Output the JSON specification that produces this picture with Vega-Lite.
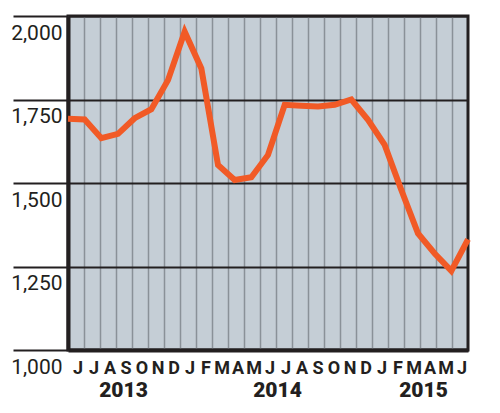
{
  "$schema": "https://vega.github.io/schema/vega-lite/v6.json",
  "width": 400,
  "height": 334,
  "autosize": {"type": "none"},
  "padding": {"left": 68, "top": 16, "right": 32, "bottom": 63},
  "background": "white",
  "config": {
    "view": {"fill": "#c5ced6", "stroke": "#231f20", "strokeWidth": 3}
  },
  "data": {
    "values": [
      {"month": "Jun 2013", "value": 1692},
      {"month": "Jul 2013", "value": 1690},
      {"month": "Aug 2013", "value": 1634},
      {"month": "Sep 2013", "value": 1647},
      {"month": "Oct 2013", "value": 1694},
      {"month": "Nov 2013", "value": 1721},
      {"month": "Dec 2013", "value": 1808},
      {"month": "Jan 2014", "value": 1953},
      {"month": "Feb 2014", "value": 1843},
      {"month": "Mar 2014", "value": 1554},
      {"month": "Apr 2014", "value": 1509},
      {"month": "May 2014", "value": 1517},
      {"month": "Jun 2014", "value": 1584},
      {"month": "Jul 2014", "value": 1734},
      {"month": "Aug 2014", "value": 1731},
      {"month": "Sep 2014", "value": 1729},
      {"month": "Oct 2014", "value": 1734},
      {"month": "Nov 2014", "value": 1750},
      {"month": "Dec 2014", "value": 1689},
      {"month": "Jan 2015", "value": 1614},
      {"month": "Feb 2015", "value": 1479},
      {"month": "Mar 2015", "value": 1349},
      {"month": "Apr 2015", "value": 1289},
      {"month": "May 2015", "value": 1237},
      {"month": "Jun 2015", "value": 1331}
    ]
  },
  "layer": [
    {
      "mark": {"type": "point", "opacity": 0},
      "encoding": {
        "x": {
          "field": "month",
          "type": "ordinal",
          "sort": null,
          "scale": {"type": "band", "paddingInner": 0, "paddingOuter": 0},
          "axis": {
            "title": null,
            "labelExpr": "substring(datum.value, 0, 1)",
            "labelAngle": 0,
            "labelOverlap": false,
            "labelFlush": false,
            "bandPosition": 0,
            "labelOffset": 2,
            "ticks": false,
            "tickSize": 0,
            "labelPadding": 9,
            "labelBaseline": "top",
            "labelFont": "Roboto",
            "labelFontSize": 18,
            "labelFontWeight": "bold",
            "labelColor": "#231f20",
            "grid": true,
            "gridColor": "#8a9198",
            "gridWidth": 1.5,
            "domainColor": "#231f20",
            "domainWidth": 4
          }
        },
        "y": {
          "field": "value",
          "type": "quantitative",
          "scale": {"domain": [1000, 2000], "nice": false, "zero": false},
          "axis": {
            "title": null,
            "values": [1000, 1250, 1500, 1750, 2000],
            "format": ",.0f",
            "tickSize": 55,
            "tickColor": "#231f20",
            "tickWidth": 2,
            "grid": true,
            "gridColor": "#231f20",
            "gridWidth": 2,
            "domainColor": "#231f20",
            "domainWidth": 4,
            "labelPadding": -49,
            "labelAlign": "right",
            "labelBaseline": "top",
            "labelOffset": 6,
            "labelFont": "Roboto",
            "labelFontSize": 21,
            "labelColor": "#231f20"
          }
        }
      }
    },
    {
      "mark": {"type": "line", "color": "#f15a26", "strokeWidth": 6},
      "encoding": {
        "x": {
          "field": "month",
          "type": "ordinal",
          "sort": null,
          "scale": {"type": "point", "padding": 0},
          "axis": {
            "orient": "bottom",
            "title": null,
            "grid": false,
            "ticks": false,
            "tickSize": 0,
            "domain": false,
            "labelAngle": 0,
            "labelOverlap": false,
            "labelFlush": false,
            "labelExpr": "datum.value == 'Sep 2013' ? '2013' : datum.value == 'Jun 2014' ? '2014' : datum.value == 'Mar 2015' ? '2015' : ''",
            "labelOffset": {"condition": {"test": "datum.value == 'Jun 2014'", "value": 9}, "value": 5},
            "labelPadding": 29,
            "labelBaseline": "top",
            "labelFont": "Roboto",
            "labelFontSize": 21,
            "labelFontWeight": 900,
            "labelColor": "#231f20"
          }
        },
        "y": {"field": "value", "type": "quantitative"}
      }
    }
  ],
  "resolve": {"scale": {"x": "independent"}}
}
